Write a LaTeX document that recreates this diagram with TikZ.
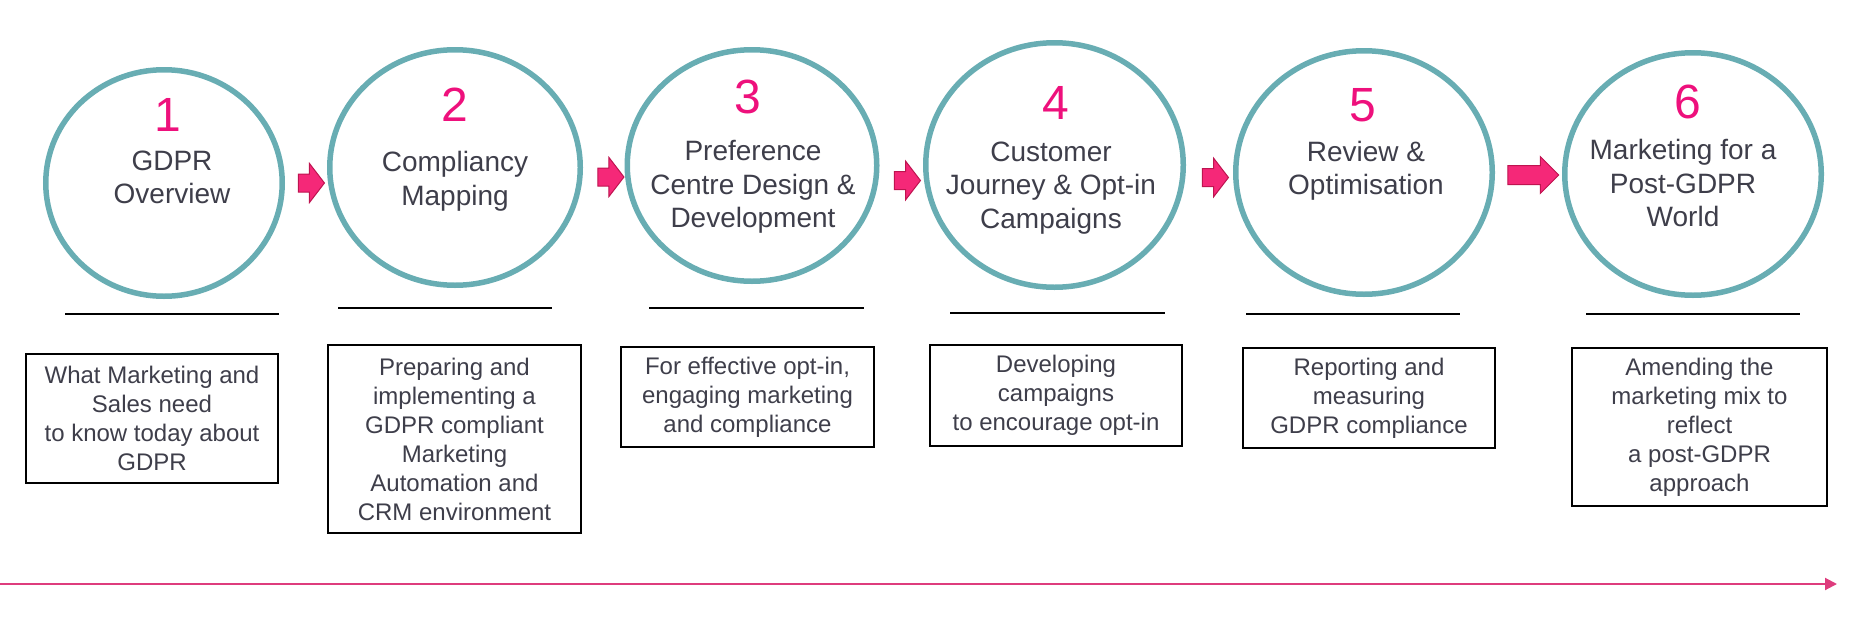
\documentclass[tikz,border=0pt]{standalone}
\usepackage{fontspec}
\setmainfont{Liberation Sans}
\usetikzlibrary{shapes,arrows.meta,positioning}

\definecolor{ringteal}{RGB}{104,173,179}
\definecolor{stepmagenta}{RGB}{238,16,124}
\definecolor{arrowpink}{RGB}{245,40,120}
\definecolor{arrowedge}{RGB}{190,20,80}
\definecolor{textgray}{RGB}{62,62,74}
\definecolor{timepink}{RGB}{222,60,125}

\begin{document}
\begin{tikzpicture}[x=1pt,y=-1pt,
  ring/.style={ellipse, draw=ringteal, line width=5.5pt, inner sep=0pt},
  num/.style={text=stepmagenta, font=\fontsize{48}{48}\selectfont, inner sep=0pt},
  title/.style={text=textgray, align=center, font=\fontsize{28}{33.5}\selectfont, inner sep=0pt},
  desc/.style={draw=black, line width=2pt, text=textgray, align=center, font=\fontsize{24}{29}\selectfont, inner sep=0pt},
  rule/.style={line width=2.2pt},
  blockarrow/.style={single arrow, fill=arrowpink, draw=arrowedge, line width=1pt, inner xsep=0pt, inner ysep=8.5pt, single arrow head extend=10.5pt, single arrow tip angle=105, minimum height=26pt},
  timeline/.style={draw=timepink, line width=2pt, -{Triangle[length=12pt,width=12pt]}}]
\useasboundingbox (0,0) rectangle (1871,632);
% circles
\node[ring, minimum width=236.5pt, minimum height=226.5pt] (c1) at (164,183) {};
\node[ring, minimum width=250.5pt, minimum height=235.5pt] (c2) at (455,167.5) {};
\node[ring, minimum width=249.5pt, minimum height=231.5pt] (c3) at (752,165.5) {};
\node[ring, minimum width=257.5pt, minimum height=244.5pt] (c4) at (1054.5,165) {};
\node[ring, minimum width=256.5pt, minimum height=243.5pt] (c5) at (1364,172.5) {};
\node[ring, minimum width=256.5pt, minimum height=242.5pt] (c6) at (1693,174) {};
% numbers
\node[num] (n1) at (168,115) {1};
\node[num] (n2) at (455,105) {2};
\node[num] (n3) at (748,97) {3};
\node[num] (n4) at (1056,103) {4};
\node[num] (n5) at (1363,105) {5};
\node[num] (n6) at (1688,102) {6};
% titles
\node[title] (t1) at (172,177.5) {GDPR\\Overview};
\node[title] (t2) at (455,181.5) {Compliancy\\Mapping};
\node[title] (t3) at (753,187) {Preference\\Centre Design \&\\Development};
\node[title] (t4) at (1051,188) {Customer\\Journey \& Opt-in\\Campaigns};
\node[title] (t5) at (1366,171) {Review \&\\Optimisation};
\node[title] (t6) at (1683,183) {Marketing for a\\Post-GDPR\\World};
% arrows between the circles
\node[blockarrow] (a12) at (308,183) {};
\node[blockarrow] (a23) at (607.5,177) {};
\node[blockarrow] (a34) at (904,180.5) {};
\node[blockarrow] (a45) at (1212,177.5) {};
\node[blockarrow, minimum height=51pt, inner ysep=9pt, single arrow head extend=9pt, single arrow tip angle=90] (a56) at (1528.5,175) {};
% rules under the circles
\draw[rule] (65,314) -- (279,314);
\draw[rule] (338,308) -- (552,308);
\draw[rule] (649,308) -- (864,308);
\draw[rule] (950,313) -- (1165,313);
\draw[rule] (1246,314) -- (1460,314);
\draw[rule] (1586,314) -- (1800,314);
% descriptions
\node[desc, minimum width=252pt, minimum height=129pt] (d1) at (152,418.5) {What Marketing and\\Sales need\\to know today about\\GDPR};
\node[desc, minimum width=253pt, minimum height=188pt] (d2) at (454.5,439) {Preparing and\\implementing a\\GDPR compliant\\Marketing\\Automation and\\CRM environment};
\node[desc, minimum width=253pt, minimum height=100pt] (d3) at (747.5,397) {For effective opt-in,\\engaging marketing\\and compliance};
\node[desc, minimum width=252pt, minimum height=101pt] (d4) at (1056,395.5) {Developing\\campaigns\\to encourage opt-in};
\node[desc, minimum width=252pt, minimum height=100pt] (d5) at (1369,398) {Reporting and\\measuring\\GDPR compliance};
\node[desc, minimum width=255pt, minimum height=158pt] (d6) at (1699.5,427) {Amending the\\marketing mix to\\reflect\\a post-GDPR\\approach};
% timeline
\coordinate (start) at (0,584);
\coordinate (end) at (1837,584);
\draw[timeline] (start) -- (end);
\end{tikzpicture}
\end{document}
